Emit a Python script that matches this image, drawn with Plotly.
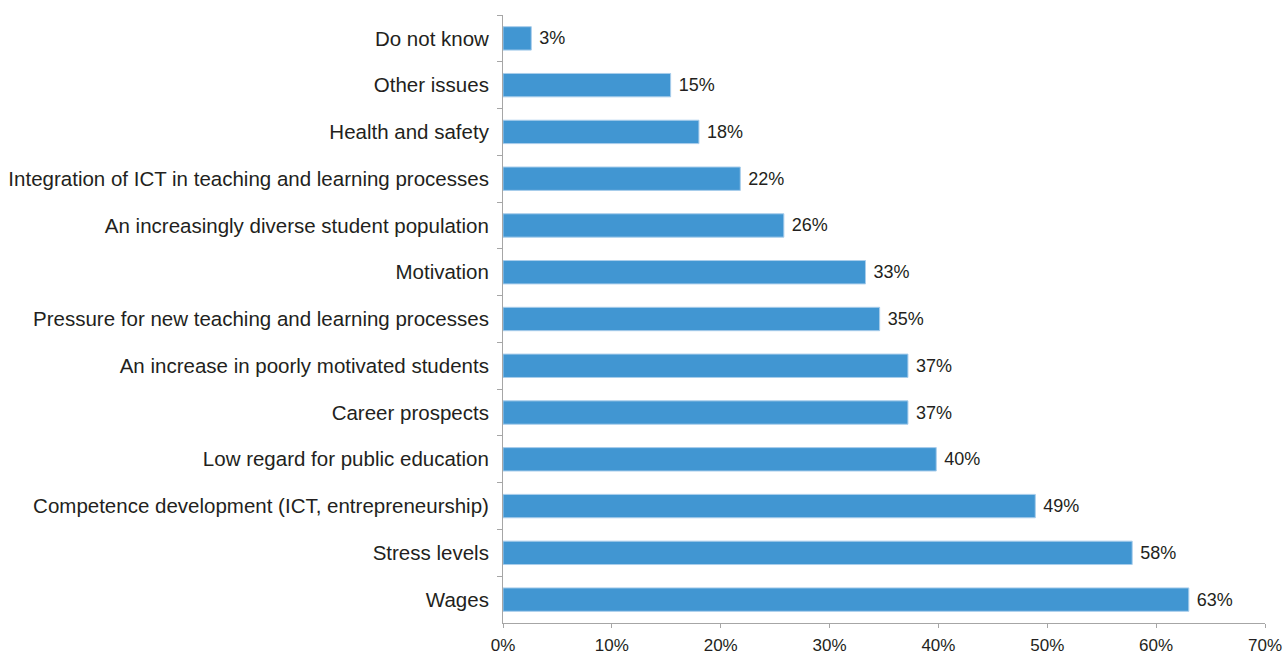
import plotly.graph_objects as go

# Survey responses, top-to-bottom order as displayed
categories = [
    "Do not know",
    "Other issues",
    "Health and safety",
    "Integration of ICT in teaching and learning processes",
    "An increasingly diverse student population",
    "Motivation",
    "Pressure for new teaching and learning processes",
    "An increase in poorly motivated students",
    "Career prospects",
    "Low regard for public education",
    "Competence development (ICT, entrepreneurship)",
    "Stress levels",
    "Wages",
]
shares = [0.026, 0.154, 0.180, 0.218, 0.258, 0.333, 0.346, 0.372, 0.372, 0.398, 0.489, 0.578, 0.630]
x_ticks = [0, 0.1, 0.2, 0.3, 0.4, 0.5, 0.6, 0.7]
x_tick_labels = ["0%", "10%", "20%", "30%", "40%", "50%", "60%", "70%"]

FONT = "Liberation Sans, Arial, sans-serif"
TEXT = "#231f20"
AXIS = "#a6a6a6"

fig = go.Figure(
    go.Bar(
        x=shares,
        y=categories,
        orientation="h",
        width=0.5,
        marker=dict(color="#4196d2", line=dict(color="#a9cdeb", width=1)),
        texttemplate=" %{x:.0%}",
        textposition="outside",
        textfont=dict(family=FONT, size=18, color=TEXT),
        cliponaxis=False,
        hoverinfo="skip",
    )
)

fig.update_layout(
    width=1285,
    height=655,
    margin=dict(l=503, r=20, t=15, b=32),
    paper_bgcolor="white",
    plot_bgcolor="white",
    showlegend=False,
    font=dict(family=FONT, color=TEXT),
)

fig.update_xaxes(
    range=[0, 0.7],
    tickvals=x_ticks,
    ticktext=x_tick_labels,
    automargin=False,
    showgrid=False,
    zeroline=False,
    showline=True,
    linecolor=AXIS,
    linewidth=1,
    ticks="outside",
    ticklen=4,
    tickcolor=AXIS,
    ticklabelstandoff=3,
    tickfont=dict(family=FONT, size=17, color=TEXT),
)

fig.update_yaxes(
    type="category",
    categoryorder="array",
    categoryarray=categories,
    autorange="reversed",
    tickson="boundaries",
    automargin=False,
    showgrid=False,
    zeroline=False,
    showline=True,
    linecolor=AXIS,
    linewidth=1,
    ticks="outside",
    ticklen=5,
    tickcolor=AXIS,
    ticklabelstandoff=9,
    tickfont=dict(family=FONT, size=20.5, color=TEXT),
)

fig.write_html("out.html")
